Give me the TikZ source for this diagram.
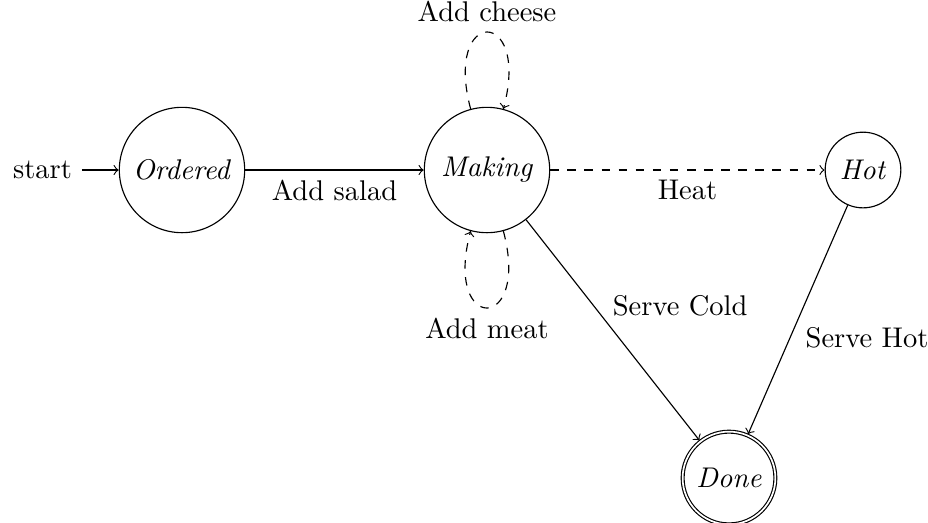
\documentclass[tikz,border=0pt]{standalone}
\usetikzlibrary{automata,positioning}
\begin{document}
\begin{tikzpicture}[x=0.351pt,y=-0.351pt,>=to,
    trans/.style={->},
    optional/.style={->,dashed}]
  \useasboundingbox (0,0) rectangle (928,522);

  % states of the order
  \node[state,initial,initial text=start,minimum size=44pt] (ordered) at (182,170) {\textit{Ordered}};
  \node[state,minimum size=44pt] (making) at (487,170) {\textit{Making}};
  \node[state] (hot) at (863,170) {\textit{Hot}};
  \node[state,accepting] (done) at (729,478) {\textit{Done}};

  % transitions
  \path (ordered) edge[trans] node[below] {Add salad} (making);
  \path (making) edge[optional] node[below] {Heat} (hot);
  \path (making) edge[optional,loop above,looseness=8.3] node[above] {Add cheese} (making);
  \path (making) edge[optional,loop below,looseness=8.3] node[below] {Add meat} (making);
  \path (making) edge[trans] node[above right,xshift=-3.5pt,yshift=1.4pt] {Serve Cold} (done);
  \path (hot) edge[trans] node[pos=0.58,right=2pt] {Serve Hot} (done);
\end{tikzpicture}
\end{document}
